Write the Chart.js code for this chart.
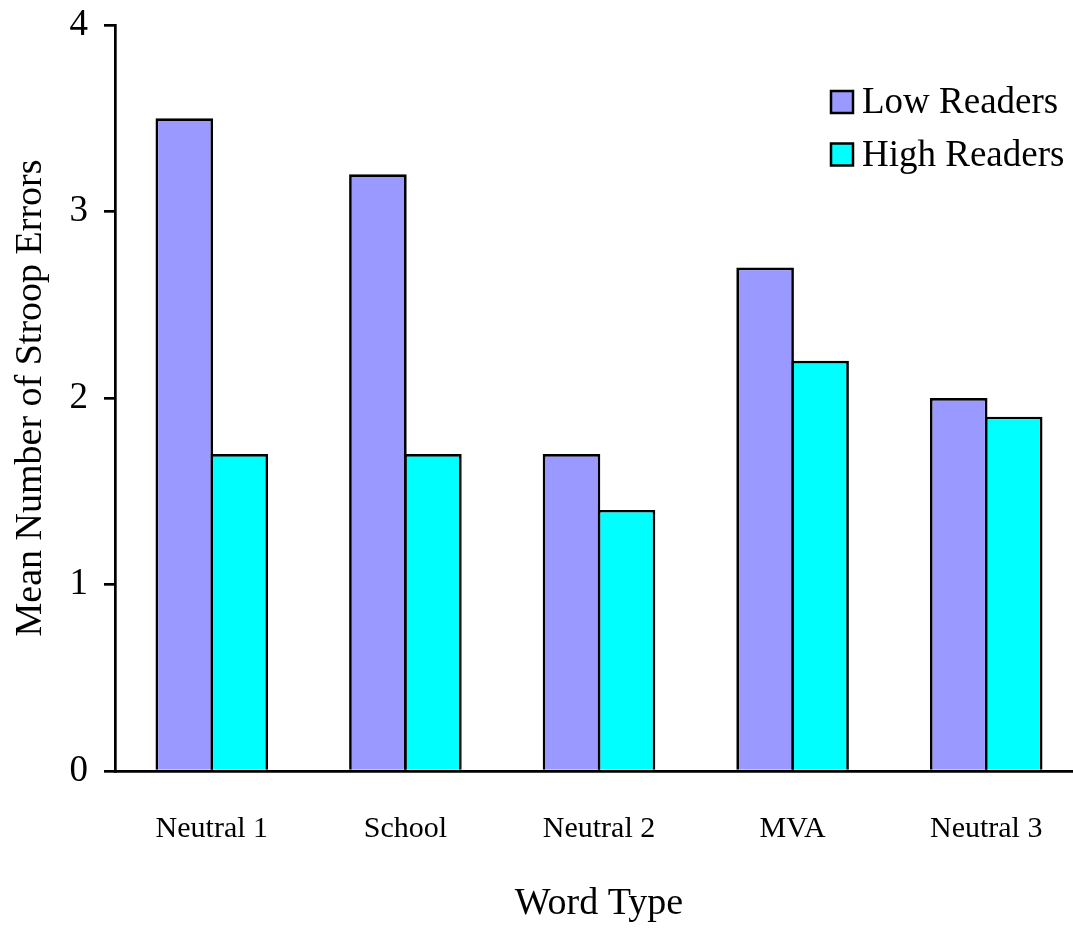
<!DOCTYPE html>
<html>
<head>
<meta charset="utf-8">
<script src="https://cdn.jsdelivr.net/npm/chart.js@4/dist/chart.umd.min.js"></script>
<style>
  html, body { margin: 0; padding: 0; background: #fff; overflow: hidden; }
  #wrap { position: absolute; left: 0; top: 0; width: 1083px; height: 933px; }
</style>
</head>
<body>
<div id="wrap"><canvas id="c"></canvas></div>
<script>
const categories = ['Neutral 1', 'School', 'Neutral 2', 'MVA', 'Neutral 3'];
const lowReaders = [3.5, 3.2, 1.7, 2.7, 2.0];
const highReaders = [1.7, 1.7, 1.4, 2.2, 1.9];
const seriesNames = ['Low Readers', 'High Readers'];
const yTicks = [0, 1, 2, 3, 4];

const FONT = "'Liberation Serif', 'Times New Roman', serif";

// Legend drawn inside the plot area, upper right
const insideLegend = {
  id: 'insideLegend',
  afterDraw(chart) {
    const ctx = chart.ctx;
    const box = 22;
    const x0 = 831, y0 = 91, step = 52.5;
    ctx.save();
    ctx.font = '37px ' + FONT;
    ctx.textBaseline = 'alphabetic';
    ctx.textAlign = 'left';
    chart.data.datasets.forEach((ds, i) => {
      const y = y0 + i * step;
      ctx.fillStyle = ds.backgroundColor;
      ctx.fillRect(x0, y, box, box);
      ctx.lineWidth = 2.5;
      ctx.strokeStyle = '#000';
      ctx.strokeRect(x0, y, box, box);
      ctx.fillStyle = '#000';
      ctx.fillText(ds.label, x0 + 31, y + box);
    });
    ctx.restore();
  }
};

new Chart(document.getElementById('c'), {
  type: 'bar',
  data: {
    labels: categories,
    datasets: [
      { label: seriesNames[0], data: lowReaders, backgroundColor: '#9999FF', borderColor: '#000', borderWidth: 2.7, borderSkipped: 'start' },
      { label: seriesNames[1], data: highReaders, backgroundColor: '#00FFFF', borderColor: '#000', borderWidth: 2.7, borderSkipped: 'start' }
    ]
  },
  options: {
    responsive: true,
    maintainAspectRatio: false,
    animation: false,
    layout: { padding: { top: 25, right: 0, bottom: 0, left: 0 } },
    // neighbouring bars overlap by one border width so they share a single edge line
    datasets: { bar: { categoryPercentage: 0.568, barPercentage: 1.048 } },
    plugins: { legend: { display: false }, tooltip: { enabled: false } },
    scales: {
      x: {
        offset: true,
        grid: { display: false, drawTicks: false },
        border: { display: true, color: '#000', width: 2.7 },
        ticks: { color: '#000', font: { family: FONT, size: 30 }, padding: 40, maxRotation: 0 },
        title: { display: true, text: 'Word Type', color: '#000', font: { family: FONT, size: 38 }, padding: { top: 0, bottom: 6 } },
        afterFit(s) { s.height = 162; }
      },
      y: {
        min: 0, max: 4,
        afterBuildTicks(s) { s.ticks = yTicks.map(v => ({ value: v })); },
        grid: { drawOnChartArea: false, drawTicks: true, tickLength: 11, color: '#000', lineWidth: 2.7 },
        border: { display: true, color: '#000', width: 2.7 },
        ticks: { color: '#000', font: { family: FONT, size: 37 }, padding: 16 },
        title: { display: true, text: 'Mean Number of Stroop Errors', color: '#000', font: { family: FONT, size: 38 }, padding: { top: 8, bottom: 0 } },
        afterFit(s) { s.width = 115; s.paddingTop = 0; s.paddingBottom = 0; }
      }
    }
  },
  plugins: [insideLegend]
});
</script>
</body>
</html>
